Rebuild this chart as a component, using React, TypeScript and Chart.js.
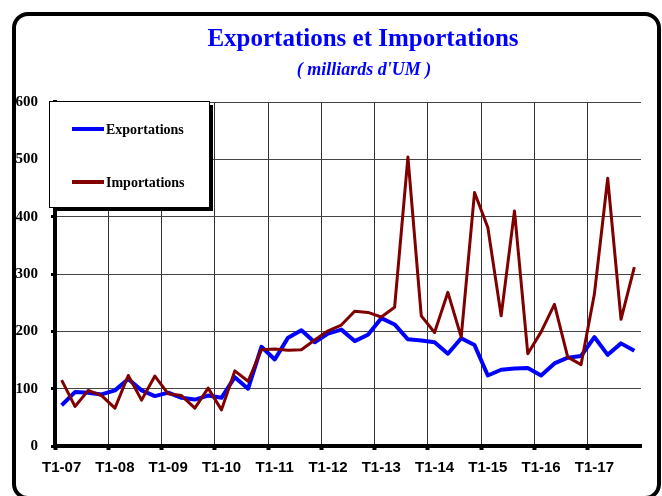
import React, { useEffect, useRef } from "react";
import { Chart, registerables } from "chart.js";

Chart.register(...registerables);

const TITLE = "Exportations et Importations";
const SUBTITLE = "( milliards d'UM )";

const years = ["07", "08", "09", "10", "11", "12", "13", "14", "15", "16", "17"];
const quarters = ["T1", "T2", "T3", "T4"];
const categories = years.flatMap((y) => quarters.map((q) => `${q}-${y}`));

const exportations = [
  71, 94, 93, 90, 97, 117, 97, 87, 93, 84, 81, 88,
  84, 120, 100, 173, 151, 189, 202, 181, 196, 203, 183, 194,
  223, 212, 186, 184, 181, 161, 188, 176, 123, 133, 135, 136,
  123, 144, 154, 157, 190, 159, 179, 166,
];

const importations = [
  115, 69, 97, 88, 66, 123, 80, 122, 91, 88, 66, 101,
  63, 131, 113, 168, 169, 167, 168, 185, 201, 211, 235, 233,
  225, 242, 504, 227, 198, 268, 190, 442, 381, 227, 410, 161,
  199, 247, 155, 142, 265, 467, 221, 312,
];

const yTicks = { min: 0, max: 600, step: 100 };

const seriesLabels = ["Exportations", "Importations"];
const seriesColors = ["#0000FF", "#800000"];

const titlePlugin = {
  id: "customTitle",
  afterDraw(chart: any) {
    const ctx = chart.ctx;
    ctx.save();
    ctx.fillStyle = "#0000FF";
    ctx.textAlign = "center";
    ctx.textBaseline = "middle";
    ctx.font = 'bold 25px "Liberation Serif"';
    ctx.fillText(TITLE, 363, 40);
    ctx.font = 'italic bold 18px "Liberation Serif"';
    ctx.fillText(SUBTITLE, 364, 70);
    ctx.restore();
  },
};

const legendPlugin = {
  id: "boxLegend",
  afterDraw(chart: any) {
    const ctx = chart.ctx;
    const x = 49, y = 101, w = 160, h = 106;
    ctx.save();
    ctx.fillStyle = "#000";
    ctx.fillRect(x + 4, y + 4, w, h);
    ctx.fillStyle = "#fff";
    ctx.fillRect(x, y, w, h);
    ctx.strokeStyle = "#000";
    ctx.lineWidth = 1;
    ctx.strokeRect(x + 0.5, y + 0.5, w, h);
    const rows = [129, 182];
    chart.data.datasets.forEach((ds: any, i: number) => {
      const ry = rows[i];
      ctx.strokeStyle = ds.borderColor;
      ctx.lineWidth = 4;
      ctx.beginPath();
      ctx.moveTo(72, ry);
      ctx.lineTo(104, ry);
      ctx.stroke();
      ctx.fillStyle = "#000";
      ctx.font = 'bold 14px "Liberation Serif"';
      ctx.textAlign = "left";
      ctx.textBaseline = "middle";
      ctx.fillText(ds.label, 106, ry + 1);
    });
    ctx.restore();
  },
};

export default function App() {
  const canvasRef = useRef<HTMLCanvasElement | null>(null);

  useEffect(() => {
    if (!canvasRef.current) return;
    const chart = new Chart(canvasRef.current, {
      type: "line",
      data: {
        labels: categories,
        datasets: [
          {
            label: seriesLabels[0],
            data: exportations,
            borderColor: seriesColors[0],
            backgroundColor: seriesColors[0],
            borderWidth: 4,
            borderJoinStyle: "round",
            pointRadius: 0,
            tension: 0,
            order: 1,
          },
          {
            label: seriesLabels[1],
            data: importations,
            borderColor: seriesColors[1],
            backgroundColor: seriesColors[1],
            borderWidth: 3,
            borderJoinStyle: "round",
            pointRadius: 0,
            tension: 0,
            order: 0,
          },
        ],
      },
      options: {
        animation: false,
        responsive: false,
        maintainAspectRatio: false,
        layout: { padding: { top: 102, right: 21, left: 0, bottom: 0 } },
        plugins: {
          legend: { display: false },
          title: { display: false },
          tooltip: { enabled: false },
        },
        scales: {
          x: {
            type: "category",
            offset: true,
            grid: {
              offset: true,
              color: (c: any) => (c.index % 4 === 0 ? "#333" : "rgba(0,0,0,0)"),
              lineWidth: 1,
              tickLength: 4,
              tickWidth: 4,
              tickColor: (c: any) => (c.index % 4 === 0 ? "#000" : "rgba(0,0,0,0)"),
            },
            border: { display: true, color: "#000", width: 4 },
            ticks: {
              autoSkip: false,
              maxRotation: 0,
              minRotation: 0,
              padding: 9,
              color: "#000",
              font: { family: '"Liberation Sans"', size: 15, weight: "bold" },
              callback: (_v: any, i: number) => (i % 4 === 0 ? categories[i] : ""),
            },
            afterFit: (s: any) => {
              s.height = 50;
            },
          },
          y: {
            min: yTicks.min,
            max: yTicks.max,
            ticks: {
              stepSize: yTicks.step,
              padding: 13,
              color: "#000",
              font: { family: '"Liberation Serif"', size: 15, weight: "bold" },
            },
            grid: {
              color: "#444",
              lineWidth: 1,
              tickLength: 4,
              tickWidth: 3,
              tickColor: "#000",
            },
            border: { display: true, color: "#000", width: 4 },
            afterFit: (s: any) => {
              s.width = 55;
            },
          },
        },
      } as any,
      plugins: [titlePlugin, legendPlugin],
    });
    return () => chart.destroy();
  }, []);

  return (
    <div
      style={{
        position: "fixed",
        left: 0,
        top: 0,
        width: 662,
        height: 496,
        background: "#fff",
        overflow: "hidden",
      }}
    >
      <canvas ref={canvasRef} width={662} height={496} style={{ display: "block" }} />
      <div
        style={{
          position: "absolute",
          left: 12,
          top: 12,
          width: 649,
          height: 488,
          border: "4px solid #000",
          borderRadius: 16,
          boxSizing: "border-box",
          pointerEvents: "none",
        }}
      />
    </div>
  );
}
